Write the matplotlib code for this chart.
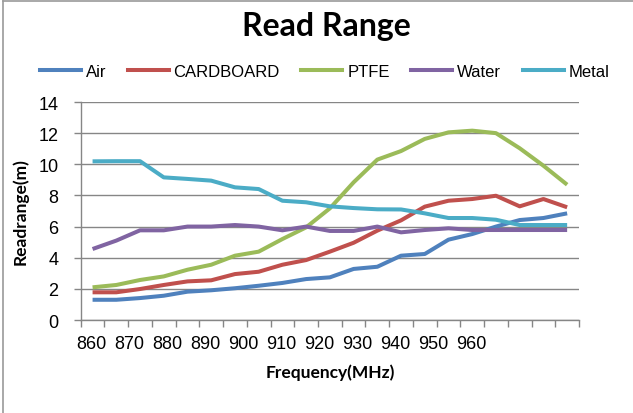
import numpy as np
import matplotlib
matplotlib.use("Agg")
import matplotlib.pyplot as plt
from matplotlib.lines import Line2D

# 21 measurement points across the band
air = [1.30, 1.30, 1.41, 1.56, 1.82, 1.91, 2.04, 2.20, 2.38, 2.63, 2.74,
       3.28, 3.42, 4.13, 4.24, 5.16, 5.52, 6.00, 6.42, 6.55, 6.85]
cardboard = [1.78, 1.78, 1.99, 2.25, 2.48, 2.55, 2.95, 3.10, 3.55, 3.85, 4.39,
             4.96, 5.74, 6.40, 7.28, 7.66, 7.77, 7.98, 7.30, 7.77, 7.24]
ptfe = [2.10, 2.25, 2.57, 2.80, 3.23, 3.55, 4.13, 4.39, 5.20, 5.95, 7.17,
        8.84, 10.30, 10.85, 11.63, 12.05, 12.16, 12.00, 11.03, 9.91, 8.69]
water = [4.56, 5.10, 5.76, 5.76, 6.00, 6.00, 6.10, 6.00, 5.76, 6.00, 5.72,
         5.72, 6.00, 5.63, 5.78, 5.89, 5.78, 5.78, 5.78, 5.78, 5.78]
metal = [10.19, 10.20, 10.20, 9.16, 9.06, 8.95, 8.52, 8.41, 7.66, 7.56, 7.30,
         7.19, 7.11, 7.10, 6.85, 6.55, 6.55, 6.44, 6.10, 6.10, 6.10]

series_names = ["Air", "CARDBOARD", "PTFE", "Water", "Metal"]
series_vals = [air, cardboard, ptfe, water, metal]
colors = ["#4F81BD", "#C0504D", "#9BBB59", "#8064A2", "#4BACC6"]

freq_labels = ["860", "870", "880", "890", "900", "910", "920", "930", "940", "950", "960"]
yticks = [0, 2, 4, 6, 8, 10, 12, 14]

plt.rcParams['font.family'] = ['Liberation Sans', 'DejaVu Sans']

fig = plt.figure(figsize=(6.33, 4.14), dpi=100)
ax = fig.add_axes([0.1275, 0.2246, 0.7872, 0.5266])

x = np.arange(len(air))
for name, vals, c in zip(series_names, series_vals, colors):
    ax.plot(x, vals, color=c, lw=2.9, solid_capstyle='butt', label=name)

ax.set_xlim(-0.5, len(air) - 0.5)
ax.set_ylim(0, 14)
ax.set_yticks(yticks)
ax.yaxis.grid(True, color='#868686', lw=1.0)
ax.set_axisbelow(True)

# category boundary tick marks
ax.set_xticks(np.arange(len(air) + 1) - 0.5, minor=True)
ax.tick_params(axis='x', which='minor', length=5, color='#868686', width=1)
# labels packed at their own spacing, as in the original
lab_pos = -0.053 + 1.603 * np.arange(len(freq_labels))
ax.set_xticks(lab_pos)
ax.set_xticklabels(freq_labels)
ax.tick_params(axis='x', which='major', length=0, pad=11, labelsize=13)
ax.tick_params(axis='y', length=5, color='#868686', width=1, pad=11, labelsize=13)

for s in ['top', 'right']:
    ax.spines[s].set_visible(False)
for s in ['left', 'bottom']:
    ax.spines[s].set_color('#868686')
    ax.spines[s].set_linewidth(1)

ax.set_xlabel("Frequency(MHz)", fontsize=12.5, fontweight='bold', family='Lato', labelpad=8)
ax.set_ylabel("Readrange(m)", fontsize=12.5, fontweight='bold', family='Lato', labelpad=7)

fig.text(0.515, 0.935, "Read Range", ha='center', va='center', fontsize=23,
         fontweight='bold', family='Lato')

handles = [Line2D([0], [0], color=c, lw=2.9) for c in colors]
fig.legend(handles, series_names, loc='center', bbox_to_anchor=(0.513, 0.826), ncol=5,
           frameon=False, fontsize=12, handlelength=2.45, handletextpad=0.3,
           columnspacing=1.3, borderaxespad=0, borderpad=0)

# screenshot frame edges (left and top only)
fig.add_artist(Line2D([3 / 633, 3 / 633], [0, 1 - 2 / 414], transform=fig.transFigure,
                      color='#9a9a9a', lw=1.2))
fig.add_artist(Line2D([3 / 633, 1], [1 - 2 / 414, 1 - 2 / 414], transform=fig.transFigure,
                      color='#9a9a9a', lw=1.2))

fig.savefig("out.png", dpi=100)
